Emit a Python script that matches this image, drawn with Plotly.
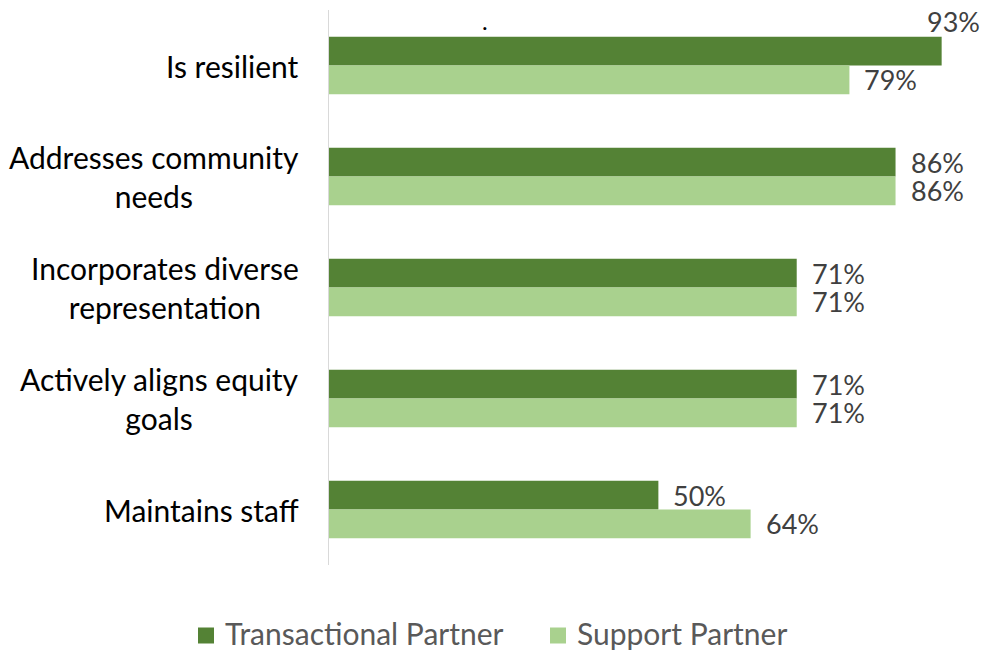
import plotly.graph_objects as go

categories = ["Is resilient", "Addresses community<br>needs", "Incorporates diverse<br>representation",
              "Actively aligns equity<br>goals", "Maintains staff"]
transactional = [0.93, 0.86, 0.71, 0.71, 0.50]
support = [0.79, 0.86, 0.71, 0.71, 0.64]
series_names = ["Transactional Partner", "Support Partner"]
colors = ["#548235", "#A9D18E"]

FONT = "Lato"
W, H = 984, 650
x_max = 0.97
PX_PER_UNIT = 659  # horizontal pixels per 100%
ML, MT, MB = 329, 10, 85
MR = W - ML - int(round(x_max * PX_PER_UNIT))
PW, PH = W - ML - MR, H - MT - MB

fig = go.Figure()
for name, vals, col in zip(series_names, [transactional, support], colors):
    fig.add_trace(go.Bar(
        y=categories, x=vals, orientation="h", name=name,
        marker=dict(color=col, line=dict(width=0)),
        hoverinfo="skip", showlegend=False,
    ))

annotations = []
shapes = []
# category labels, centered multi-line text to the left of the axis
for i, cat in enumerate(categories):
    annotations.append(dict(
        x=0, y=i, xref="x", yref="y", text=cat, showarrow=False,
        xanchor="right", yanchor="middle", align="center", xshift=-28,
        font=dict(family=FONT, size=30, color="#000000"),
    ))

# value labels to the right of each bar
offsets = [-0.13, 0.13]
for s, vals in enumerate([transactional, support]):
    for i, v in enumerate(vals):
        txt = f"{round(v * 100)}%"
        if v > 0.9:
            # no room on the right: the label sits above the bar end
            annotations.append(dict(
                x=v, y=i + offsets[s], xref="x", yref="y", text=txt, showarrow=False,
                xanchor="right", yanchor="middle", xshift=40, yshift=30,
                font=dict(family=FONT, size=27, color="#404040"),
            ))
        else:
            annotations.append(dict(
                x=v, y=i + offsets[s], xref="x", yref="y", text=txt, showarrow=False,
                xanchor="left", yanchor="middle", xshift=13,
                font=dict(family=FONT, size=27, color="#404040"),
            ))

# small dot near the top of the plot area
annotations.append(dict(
    x=0.237, y=0.952, xref="x", yref="paper", text=".", showarrow=False,
    xanchor="center", yanchor="bottom",
    font=dict(family=FONT, size=24, color="#000000"),
))

# legend drawn as squares + labels below the plot
def px_x(px):
    return (px - ML) / PW

def px_y(py):
    return (H - MB - py) / PH

legend_items = [(198, series_names[0], colors[0]), (550, series_names[1], colors[1])]
sq_y, txt_y, sq = 635.5, 633, 16
for x0, name, col in legend_items:
    shapes.append(dict(
        type="rect", xref="paper", yref="paper",
        x0=px_x(x0), x1=px_x(x0 + sq), y0=px_y(sq_y + sq / 2), y1=px_y(sq_y - sq / 2),
        fillcolor=col, line=dict(width=0),
    ))
    annotations.append(dict(
        x=px_x(x0 + sq + 9), y=px_y(txt_y), xref="paper", yref="paper", text=name,
        showarrow=False, xanchor="left", yanchor="middle",
        font=dict(family=FONT, size=30, color="#595959"),
    ))

fig.update_layout(
    width=W, height=H,
    margin=dict(l=ML, r=MR, t=MT, b=MB, autoexpand=False),
    paper_bgcolor="white", plot_bgcolor="white",
    barmode="group", bargap=0.48, bargroupgap=0,
    xaxis=dict(range=[0, x_max], visible=False, fixedrange=True),
    yaxis=dict(autorange="reversed", showticklabels=False, ticks="",
               showline=True, linecolor="#d9d9d9", linewidth=1,
               showgrid=False, zeroline=False),
    showlegend=False,
    annotations=annotations,
    shapes=shapes,
)

fig.write_html("out.html")
